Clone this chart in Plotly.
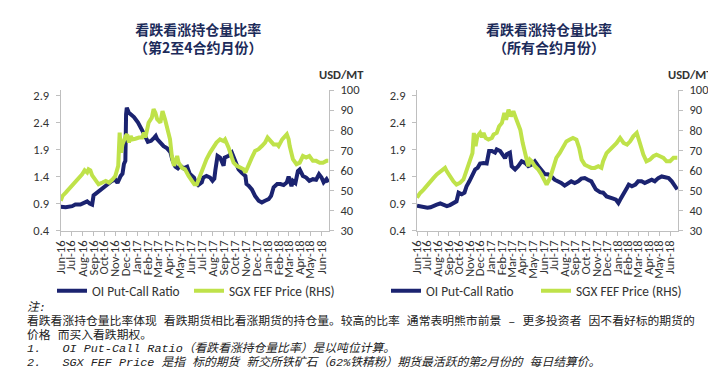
import plotly.graph_objects as go
import pandas as pd

# ---------------- data ----------------
tick_labels = ["Jun-16", "Jul-16", "Aug-16", "Sep-16", "Oct-16", "Nov-16", "Dec-16",
               "Jan-17", "Feb-17", "Mar-17", "Apr-17", "May-17", "Jun-17", "Jul-17",
               "Aug-17", "Sep-17", "Oct-17", "Nov-17", "Dec-17", "Jan-18", "Feb-18",
               "Mar-18", "Apr-18", "May-18", "Jun-18"]
ratio_ticks = [0.4, 0.9, 1.4, 1.9, 2.4, 2.9]
price_ticks = [30, 40, 50, 60, 70, 80, 90, 100]

# Left chart: 2nd-4th contract months
left_ratio_dates = ["2016-06-01", "2016-06-15", "2016-07-03", "2016-07-12", "2016-07-26", "2016-08-05",
                    "2016-08-14", "2016-08-21", "2016-08-28", "2016-09-01", "2016-09-12", "2016-09-26",
                    "2016-10-05", "2016-10-14", "2016-10-23", "2016-11-01", "2016-11-07", "2016-11-16",
                    "2016-11-21", "2016-11-25", "2016-11-29", "2016-12-01", "2016-12-03", "2016-12-09",
                    "2016-12-23", "2017-01-03", "2017-01-12", "2017-01-21", "2017-01-31", "2017-02-09",
                    "2017-02-18", "2017-02-22", "2017-02-26", "2017-03-07", "2017-03-16", "2017-03-26",
                    "2017-04-04", "2017-04-10", "2017-04-18", "2017-04-25", "2017-05-02", "2017-05-11",
                    "2017-05-21", "2017-05-28", "2017-06-09", "2017-06-14", "2017-06-21", "2017-07-01",
                    "2017-07-05", "2017-07-14", "2017-07-24", "2017-07-31", "2017-08-05", "2017-08-08",
                    "2017-08-14", "2017-08-21", "2017-08-26", "2017-08-31", "2017-09-03", "2017-09-14",
                    "2017-09-23", "2017-09-30", "2017-10-05", "2017-10-12", "2017-10-21", "2017-10-31",
                    "2017-11-03", "2017-11-09", "2017-11-18", "2017-11-27", "2017-12-07", "2017-12-16",
                    "2017-12-25", "2018-01-04", "2018-01-11", "2018-01-18", "2018-01-28", "2018-02-06",
                    "2018-02-15", "2018-02-24", "2018-03-01", "2018-03-09", "2018-03-13", "2018-03-20",
                    "2018-03-27", "2018-04-01", "2018-04-10", "2018-04-19", "2018-04-28", "2018-05-08",
                    "2018-05-17", "2018-05-25", "2018-06-01", "2018-06-07", "2018-06-15", "2018-06-20"]
left_ratio = [0.84, 0.83, 0.85, 0.88, 0.88, 0.92, 0.94, 0.90, 0.88, 1.05, 1.11, 1.19,
              1.24, 1.29, 1.32, 1.34, 1.28, 1.41, 1.45, 1.63, 1.69, 2.55, 2.67, 2.58,
              2.50, 2.40, 2.27, 2.18, 2.04, 2.06, 2.12, 2.15, 2.09, 2.03, 1.96, 1.92,
              1.85, 1.70, 1.58, 1.55, 1.60, 1.55, 1.58, 1.45, 1.38, 1.29, 1.24, 1.29,
              1.38, 1.41, 1.38, 1.32, 1.36, 1.52, 1.78, 1.75, 1.69, 1.60, 1.75, 1.78,
              1.84, 1.72, 1.60, 1.53, 1.47, 1.41, 1.26, 1.23, 1.16, 1.04, 0.95, 0.92,
              0.95, 0.98, 1.04, 1.20, 1.26, 1.26, 1.24, 1.29, 1.40, 1.22, 1.32, 1.28,
              1.50, 1.53, 1.41, 1.38, 1.32, 1.35, 1.34, 1.44, 1.38, 1.29, 1.35, 1.29]

left_price_dates = ["2016-06-01", "2016-06-06", "2016-06-15", "2016-06-24", "2016-07-03", "2016-07-12",
                    "2016-07-21", "2016-07-31", "2016-08-07", "2016-08-14", "2016-08-18", "2016-08-23",
                    "2016-08-28", "2016-09-06", "2016-09-15", "2016-09-26", "2016-10-05", "2016-10-14",
                    "2016-10-23", "2016-11-01", "2016-11-09", "2016-11-13", "2016-11-17", "2016-11-21",
                    "2016-11-25", "2016-11-30", "2016-12-04", "2016-12-09", "2016-12-14", "2016-12-18",
                    "2016-12-27", "2017-01-06", "2017-01-15", "2017-01-20", "2017-01-24", "2017-02-02",
                    "2017-02-11", "2017-02-16", "2017-02-21", "2017-02-26", "2017-03-07", "2017-03-13",
                    "2017-03-20", "2017-03-29", "2017-04-03", "2017-04-08", "2017-04-14", "2017-04-23",
                    "2017-04-27", "2017-05-06", "2017-05-15", "2017-05-25", "2017-06-03", "2017-06-10",
                    "2017-06-17", "2017-06-26", "2017-07-05", "2017-07-14", "2017-07-24", "2017-08-02",
                    "2017-08-11", "2017-08-21", "2017-08-31", "2017-09-04", "2017-09-14", "2017-09-23",
                    "2017-09-28", "2017-10-07", "2017-10-17", "2017-10-26", "2017-10-31", "2017-11-09",
                    "2017-11-18", "2017-11-27", "2017-12-07", "2017-12-16", "2017-12-25", "2018-01-01",
                    "2018-01-09", "2018-01-18", "2018-01-28", "2018-02-01", "2018-02-11", "2018-02-20",
                    "2018-02-24", "2018-03-01", "2018-03-04", "2018-03-13", "2018-03-23", "2018-04-01",
                    "2018-04-10", "2018-04-19", "2018-04-28", "2018-05-08", "2018-05-17", "2018-05-27",
                    "2018-06-05", "2018-06-15", "2018-06-20"]
left_price = [44.8, 47.2, 48.9, 50.6, 52.2, 53.9, 55.5, 58.0, 60.0, 58.9, 60.5, 60.0,
              57.5, 55.5, 53.0, 53.9, 54.7, 53.9, 55.2, 57.2, 62.2, 78.8, 68.8, 73.0,
              75.4, 77.1, 77.9, 73.8, 77.1, 75.4, 75.7, 76.3, 76.3, 78.8, 76.3, 83.7,
              86.2, 90.4, 88.7, 85.4, 83.7, 89.5, 85.4, 78.8, 75.4, 67.1, 62.2, 67.1,
              63.8, 61.3, 60.5, 57.2, 54.7, 53.0, 53.0, 57.2, 62.2, 65.5, 68.8, 71.3,
              73.8, 75.4, 74.6, 75.4, 71.3, 66.3, 63.8, 62.2, 61.3, 60.5, 58.9, 63.0,
              66.3, 69.6, 70.5, 72.1, 73.8, 76.3, 74.6, 72.9, 72.9, 72.1, 75.4, 77.1,
              77.9, 75.5, 72.1, 65.5, 63.0, 63.8, 67.1, 66.3, 67.1, 64.7, 64.7, 63.8,
              63.8, 64.7, 64.7]

# Right chart: all contract months
right_ratio_dates = ["2016-06-01", "2016-06-15", "2016-07-01", "2016-07-10", "2016-07-19", "2016-07-28",
                     "2016-08-07", "2016-08-16", "2016-08-26", "2016-09-04", "2016-09-14", "2016-09-23",
                     "2016-09-29", "2016-10-08", "2016-10-16", "2016-10-22", "2016-10-30", "2016-11-06",
                     "2016-11-11", "2016-11-16", "2016-11-23", "2016-11-30", "2016-12-10", "2016-12-19",
                     "2016-12-26", "2017-01-03", "2017-01-12", "2017-01-17", "2017-01-27", "2017-02-02",
                     "2017-02-10", "2017-02-15", "2017-02-24", "2017-03-01", "2017-03-11", "2017-03-20",
                     "2017-03-30", "2017-04-09", "2017-04-18", "2017-04-28", "2017-05-07", "2017-05-17",
                     "2017-05-26", "2017-06-01", "2017-06-05", "2017-06-14", "2017-06-24", "2017-07-03",
                     "2017-07-13", "2017-07-22", "2017-08-01", "2017-08-11", "2017-08-20", "2017-08-30",
                     "2017-09-09", "2017-09-18", "2017-09-28", "2017-10-07", "2017-10-17", "2017-10-22",
                     "2017-10-30", "2017-11-11", "2017-11-20", "2017-11-30", "2017-12-10", "2017-12-19",
                     "2017-12-27", "2018-01-03", "2018-01-08", "2018-01-18", "2018-01-28", "2018-02-02",
                     "2018-02-11", "2018-02-21", "2018-03-01", "2018-03-11", "2018-03-20", "2018-03-30",
                     "2018-04-09", "2018-04-18", "2018-04-28", "2018-05-08", "2018-05-18", "2018-05-28",
                     "2018-06-06", "2018-06-16", "2018-06-22"]
right_ratio = [0.86, 0.84, 0.82, 0.83, 0.86, 0.88, 0.90, 0.87, 0.85, 0.87, 0.91, 0.94,
               1.10, 1.07, 1.10, 1.22, 1.31, 1.40, 1.50, 1.53, 1.56, 1.64, 1.65, 1.64,
               1.87, 1.87, 1.84, 1.90, 1.87, 1.81, 1.74, 1.81, 1.84, 1.59, 1.53, 1.59,
               1.68, 1.65, 1.59, 1.62, 1.68, 1.59, 1.53, 1.47, 1.44, 1.44, 1.40, 1.34,
               1.31, 1.28, 1.23, 1.28, 1.31, 1.28, 1.31, 1.36, 1.37, 1.34, 1.31, 1.25,
               1.16, 1.11, 1.10, 1.03, 1.00, 0.99, 0.97, 0.91, 0.97, 1.10, 1.19, 1.25,
               1.22, 1.25, 1.31, 1.31, 1.28, 1.31, 1.34, 1.31, 1.37, 1.40, 1.39, 1.37,
               1.31, 1.22, 1.16]

right_price_dates = ["2016-06-01", "2016-06-10", "2016-06-20", "2016-07-01", "2016-07-10", "2016-07-19",
                     "2016-07-28", "2016-08-07", "2016-08-16", "2016-08-21", "2016-08-26", "2016-09-04",
                     "2016-09-14", "2016-09-23", "2016-10-03", "2016-10-13", "2016-10-22", "2016-10-31",
                     "2016-11-08", "2016-11-12", "2016-11-17", "2016-11-22", "2016-11-30", "2016-12-05",
                     "2016-12-10", "2016-12-16", "2016-12-24", "2017-01-03", "2017-01-08", "2017-01-17",
                     "2017-01-24", "2017-02-01", "2017-02-08", "2017-02-13", "2017-02-20", "2017-02-27",
                     "2017-03-06", "2017-03-13", "2017-03-19", "2017-03-26", "2017-04-02", "2017-04-09",
                     "2017-04-14", "2017-04-18", "2017-04-23", "2017-04-28", "2017-05-07", "2017-05-17",
                     "2017-05-26", "2017-06-05", "2017-06-10", "2017-06-20", "2017-06-29", "2017-07-08",
                     "2017-07-18", "2017-07-27", "2017-08-06", "2017-08-16", "2017-08-25", "2017-09-04",
                     "2017-09-12", "2017-09-19", "2017-09-28", "2017-10-07", "2017-10-17", "2017-10-27",
                     "2017-11-06", "2017-11-15", "2017-11-20", "2017-11-30", "2017-12-10", "2017-12-19",
                     "2017-12-29", "2018-01-08", "2018-01-18", "2018-01-28", "2018-02-06", "2018-02-15",
                     "2018-02-25", "2018-03-06", "2018-03-16", "2018-03-25", "2018-04-04", "2018-04-14",
                     "2018-04-23", "2018-05-03", "2018-05-13", "2018-05-22", "2018-06-01", "2018-06-11",
                     "2018-06-22"]
right_price = [46.3, 48.7, 50.4, 52.9, 54.5, 56.2, 57.9, 59.5, 60.3, 61.2, 59.5, 57.0,
               54.5, 52.9, 53.7, 55.4, 59.5, 63.7, 68.6, 78.6, 72.0, 76.9, 78.6, 76.5,
               78.6, 76.1, 75.3, 76.1, 77.8, 78.6, 81.9, 83.6, 88.5, 85.2, 90.2, 86.9,
               89.4, 86.1, 83.6, 80.2, 73.6, 68.6, 63.7, 62.0, 65.3, 64.5, 62.0, 60.3,
               57.9, 54.5, 52.9, 56.2, 62.0, 66.2, 68.6, 71.1, 74.4, 75.3, 76.1, 75.3,
               71.1, 65.3, 62.8, 62.0, 61.2, 61.2, 62.0, 61.2, 64.5, 68.6, 70.3, 72.0,
               73.6, 76.1, 73.6, 72.8, 74.4, 76.9, 78.6, 73.6, 67.8, 64.5, 65.3, 67.0,
               67.8, 67.0, 66.2, 64.5, 64.5, 66.2, 66.2]

titles_left = ["看跌看涨持仓量比率", "（第2至4合约月份）"]
titles_right = ["看跌看涨持仓量比率", "（所有合约月份）"]
series_names = ["OI Put-Call Ratio", "SGX FEF Price (RHS)"]
unit_label = "USD/MT"
notes = [
    "<i>注:</i>",
    "看跌看涨持仓量比率体现 看跌期货相比看涨期货的持仓量。较高的比率 通常表明熊市前景 – 更多投资者 因不看好标的期货的",
    "价格 而买入看跌期权。",
    "<i>1.\u00a0\u00a0\u00a0OI Put-Call Ratio（看跌看涨持仓量比率）是以吨位计算。</i>",
    "<i>2.\u00a0\u00a0\u00a0SGX FEF Price 是指 标的期货 新交所铁矿石（62%铁精粉）期货最活跃的第2月份的 每日结算价。</i>",
]

# ---------------- styling ----------------
W, H = 716, 374
BLUE = "#1b2370"
GREEN = "#bfe24a"
AX = "#bfbfbf"
TXT = "#333333"
FONT = "Carlito, Lato, sans-serif"
CJK = "Noto Sans CJK SC"

tick_dates = list(pd.date_range("2016-06-01", periods=len(tick_labels), freq="MS"))


def px_x(v):
    return v / W


def px_y(v):
    return 1 - v / H


fig = go.Figure()
fig.add_trace(go.Scatter(x=left_ratio_dates, y=left_ratio, mode="lines", name=series_names[0],
                         line=dict(color=BLUE, width=4), xaxis="x", yaxis="y",
                         legend="legend", showlegend=True))
fig.add_trace(go.Scatter(x=left_price_dates, y=left_price, mode="lines", name=series_names[1],
                         line=dict(color=GREEN, width=4), xaxis="x", yaxis="y2",
                         legend="legend2", showlegend=True))
fig.add_trace(go.Scatter(x=right_ratio_dates, y=right_ratio, mode="lines", name=series_names[0],
                         line=dict(color=BLUE, width=4), xaxis="x2", yaxis="y3",
                         legend="legend3", showlegend=True))
fig.add_trace(go.Scatter(x=right_price_dates, y=right_price, mode="lines", name=series_names[1],
                         line=dict(color=GREEN, width=4), xaxis="x2", yaxis="y4",
                         legend="legend4", showlegend=True))

ydom = [px_y(222.5), px_y(82)]
common_axis = dict(showline=True, linecolor=AX, linewidth=1, ticks="outside", ticklen=4,
                   tickcolor=AX, showgrid=False, zeroline=False, automargin=False,
                   tickfont=dict(family=FONT, size=12.5, color=TXT))
xcommon = dict(common_axis, type="date", tickvals=tick_dates, ticktext=tick_labels, tickangle=-90)
ycommon = dict(common_axis, ticklabelstandoff=4)

fig.update_layout(
    template="none",
    width=W, height=H, autosize=False, showlegend=True,
    margin=dict(l=0, r=0, t=0, b=0),
    paper_bgcolor="white", plot_bgcolor="white",
    xaxis=dict(xcommon, domain=[px_x(52.7), px_x(321)], anchor="y",
               range=["2016-06-01", "2018-06-22"]),
    xaxis2=dict(xcommon, domain=[px_x(409), px_x(670)], anchor="y3",
                range=["2016-06-01", "2018-06-24"]),
    yaxis=dict(ycommon, domain=ydom, anchor="x", range=[0.4, 3.0],
               tickvals=ratio_ticks, ticktext=[f"{v:.1f}" for v in ratio_ticks]),
    yaxis2=dict(ycommon, overlaying="y", side="right", anchor="x", range=[30, 100],
                tickvals=price_ticks),
    yaxis3=dict(ycommon, domain=ydom, anchor="x2", range=[0.4, 3.0],
                tickvals=ratio_ticks, ticktext=[f"{v:.1f}" for v in ratio_ticks]),
    yaxis4=dict(ycommon, overlaying="y3", side="right", anchor="x2", range=[30, 100],
                tickvals=price_ticks),
)

legend_common = dict(orientation="h", xanchor="left", yanchor="middle", bgcolor="rgba(0,0,0,0)",
                     font=dict(family=FONT, size=13.3, color=TXT), borderwidth=0)
leg_y = px_y(283)
fig.update_layout(
    legend=dict(legend_common, x=px_x(44), y=leg_y),
    legend2=dict(legend_common, x=px_x(181), y=leg_y),
    legend3=dict(legend_common, x=px_x(378), y=leg_y),
    legend4=dict(legend_common, x=px_x(528), y=leg_y),
)

ann = []
title_font = dict(family=CJK, size=14, color="#1c2b5a")
for cx, lines in ((190.5, titles_left), (540.5, titles_right)):
    ann.append(dict(text="<br>".join(f"<b>{t}</b>" for t in lines), x=px_x(cx), y=px_y(29.6),
                    xref="paper", yref="paper", xanchor="center", yanchor="middle",
                    showarrow=False, font=title_font, align="center"))
for ux in (333, 682):
    ann.append(dict(text=f"<b>{unit_label}</b>", x=px_x(ux), y=px_y(66), xref="paper", yref="paper",
                    xanchor="center", yanchor="middle", showarrow=False,
                    font=dict(family=FONT, size=12.5, color=TXT)))
note_text = "<br>".join(f'<span style="font-size:11.8px">{t}</span>' for t in notes)
ann.append(dict(text=note_text, x=px_x(17), y=px_y(327.5), xref="paper", yref="paper",
                xanchor="left", yanchor="middle", align="left", showarrow=False,
                font=dict(family="Liberation Mono, " + CJK, size=10.6, color="#222222")))
fig.update_layout(annotations=ann)

fig.write_html("out.html")
